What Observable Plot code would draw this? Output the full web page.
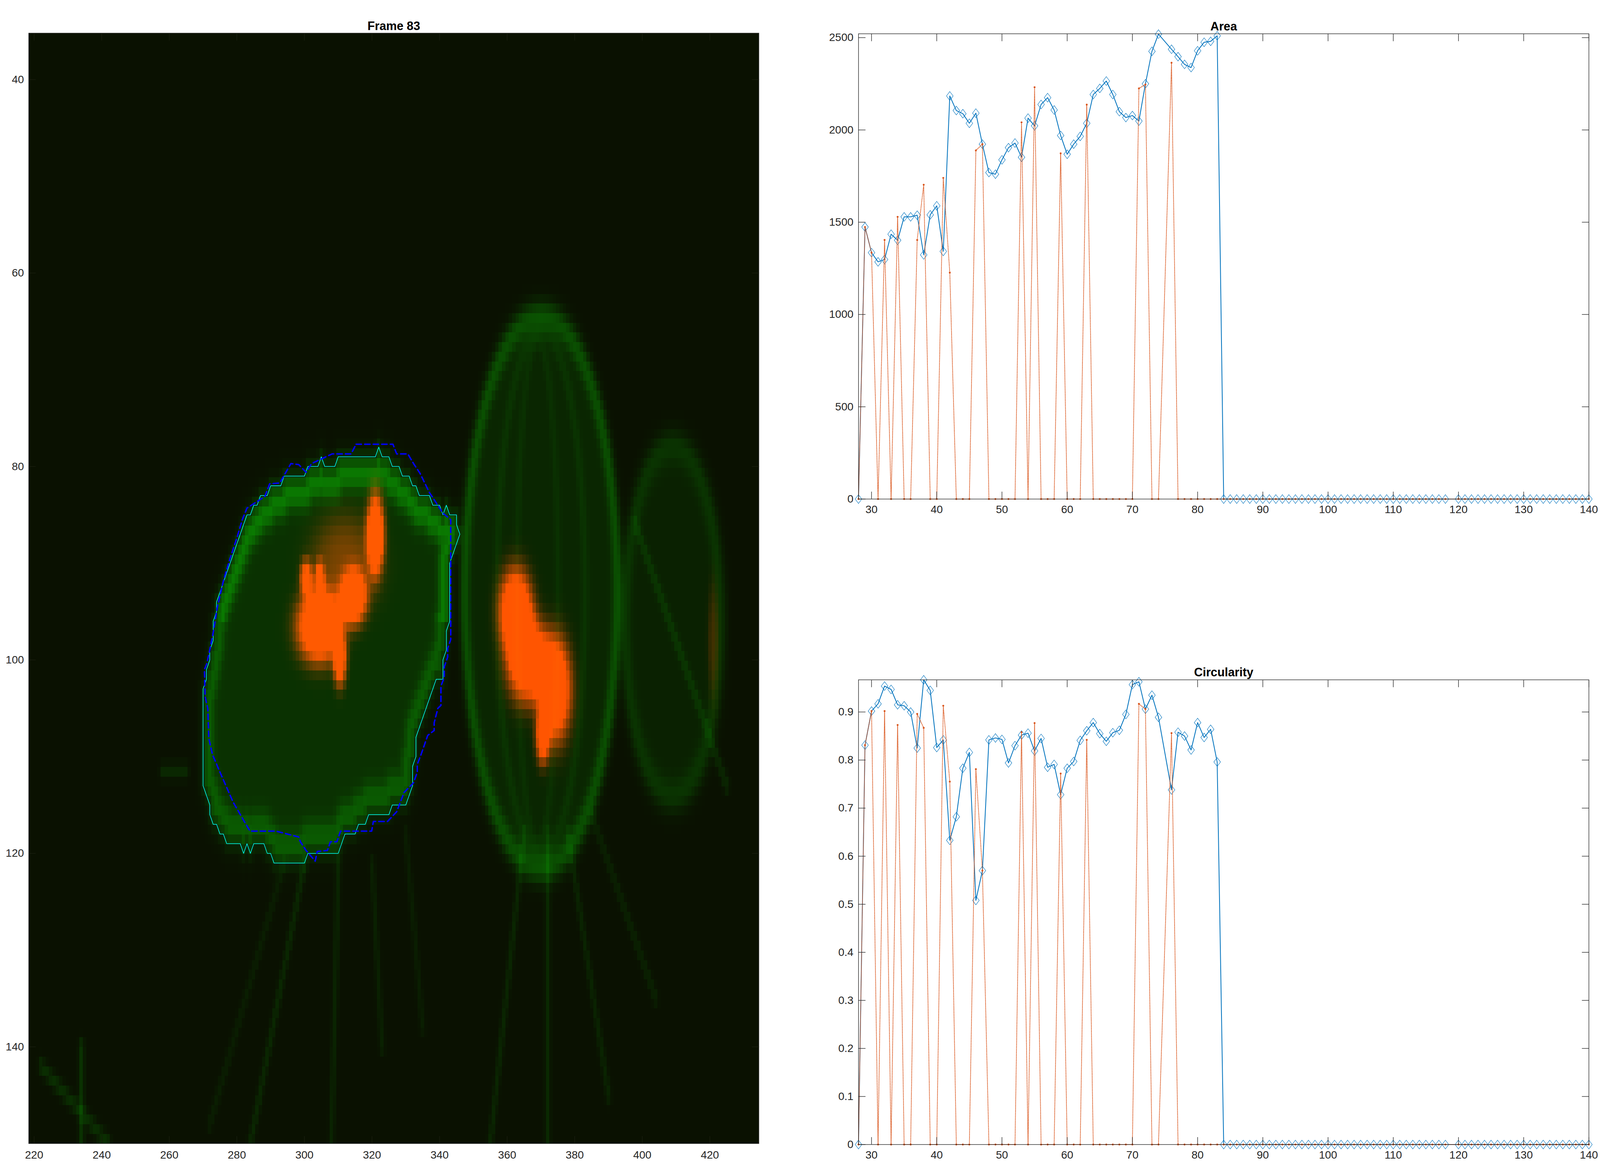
<!DOCTYPE html>
<html><head><meta charset="utf-8">
<script src="https://cdn.jsdelivr.net/npm/d3@7"></script>
<script src="https://cdn.jsdelivr.net/npm/@observablehq/plot@0.6"></script>
<style>
html,body{margin:0;padding:0;background:#fff;overflow:hidden;}
#fig{position:absolute;left:0;top:0;background:#fff;overflow:hidden;}
#fig > svg{position:absolute;}
</style></head><body><div id="fig"></div>
<script>
// ---------------- data ----------------
const frames = [28,29,30,31,32,33,34,35,36,37,38,39,40,41,42,43,44,45,46,47,48,49,50,51,52,53,54,55,56,57,58,59,60,61,62,63,64,65,66,67,68,69,70,71,72,73,74,
  76,77,78,79,80,81,82,83,84,85,86,87,88,89,90,91,92,93,94,95,96,97,98,99,100,101,102,103,104,105,106,107,108,109,110,111,112,113,114,115,116,117,118,
  120,121,122,123,124,125,126,127,128,129,130,131,132,133,134,135,136,137,138,139,140];

const areaTracked = [0,1474,1335,1285,1298,1435,1402,1529,1529,1538, 1323,1540,1589,1342,2184,2105,2088,2036,2091,1923,
  1769,1760,1838,1904,1929,1852,2064,2022,2138,2175, 2108,1970,1868,1923,1965,2036,2192,2225,2265,2192, 2099,2067,2078,2048,2250,2426,2519,
  2437,2397,2355,2338,2429,2475,2480,2510,
  0,0,0,0,0,0,0,0,0,0, 0,0,0,0,0,0,0,0,0,0, 0,0,0,0,0,0,0,0,0,0, 0,0,0,0,0,
  0,0,0,0,0,0,0,0,0,0, 0,0,0,0,0,0,0,0,0,0,0];
const areaRaw = [0,1474,1335,0,1404,0,1529,0,0,1404, 1703,0,0,1740,1227,0,0,0,1889,1923,
  0,0,0,0,0,2041,0,2231,0,0, 0,1873,0,0,0,2137,0,0,0,0, 0,0,0,2225,2246,0,0,
  2364,0,0,0,0,0,0,0,
  0,0,0,0,0,0,0,0,0,0, 0,0,0,0,0,0,0,0,0,0, 0,0,0,0,0,0,0,0,0,0, 0,0,0,0,0,
  0,0,0,0,0,0,0,0,0,0, 0,0,0,0,0,0,0,0,0,0,0];
const circTracked = [0,0.831,0.902,0.917,0.954,0.947,0.915,0.913,0.900,0.825, 0.967,0.945,0.826,0.842,0.633,0.682,0.783,0.816,0.508,0.570,
  0.842,0.846,0.843,0.794,0.830,0.852,0.856,0.819,0.845,0.785, 0.791,0.728,0.783,0.797,0.841,0.861,0.878,0.855,0.839,0.857, 0.862,0.895,0.957,0.963,0.906,0.935,0.889,
  0.738,0.858,0.850,0.821,0.878,0.847,0.864,0.796,
  0,0,0,0,0,0,0,0,0,0, 0,0,0,0,0,0,0,0,0,0, 0,0,0,0,0,0,0,0,0,0, 0,0,0,0,0,
  0,0,0,0,0,0,0,0,0,0, 0,0,0,0,0,0,0,0,0,0,0];
const circRaw = [0,0.831,0.902,0,0.902,0,0.873,0,0,0.896, 0.867,0,0,0.913,0.755,0,0,0,0.781,0.570,
  0,0,0,0,0,0.858,0,0.877,0,0, 0,0.772,0,0,0,0.842,0,0,0,0, 0,0,0,0.917,0.906,0,0,
  0.856,0,0,0,0,0,0,0,
  0,0,0,0,0,0,0,0,0,0, 0,0,0,0,0,0,0,0,0,0, 0,0,0,0,0,0,0,0,0,0, 0,0,0,0,0,
  0,0,0,0,0,0,0,0,0,0, 0,0,0,0,0,0,0,0,0,0,0];

const frameTicks = [30,40,50,60,70,80,90,100,110,120,130,140];
const areaTicks = [0,500,1000,1500,2000,2500];
const circTicks = [0,0.1,0.2,0.3,0.4,0.5,0.6,0.7,0.8,0.9];
const imgXTicks = [220,240,260,280,300,320,340,360,380,400,420];
const imgYTicks = [40,60,80,100,120,140];

// segmented outline (cyan) and fitted outline (blue dashed), image pixel coords
const cyanContour = [[322,78],[323,79],[325,79],[326,80],[328,80],[329,81],[331,81],[332,82],[333,82],[334,83],[337,83],[338,84],[340,84],[341,85],[342,84],[343,85],[345,85],[345,86],[346,87],[343,90],[343,96],[342,97],[342,99],[341,100],[341,102],[339,102],[333,108],[333,110],[332,111],[332,113],[331,114],[330,115],[326,115],[325,116],[319,116],[318,117],[316,117],[315,118],[312,118],[310,120],[301,120],[300,121],[291,121],[290,120],[289,120],[288,119],[285,119],[284,120],[283,119],[282,120],[281,119],[277,119],[276,118],[275,118],[274,117],[273,117],[272,116],[272,115],[270,113],[270,103],[271,102],[271,101],[272,100],[272,99],[273,98],[273,96],[274,95],[274,94],[283,85],[284,85],[285,84],[286,84],[287,83],[289,83],[290,82],[293,82],[294,81],[300,81],[301,80],[304,80],[305,79],[306,80],[309,80],[310,79],[321,79]];
const blueContour = [[315.3,77.7],[326.2,77.7],[327.3,78.7],[330.6,78.7],[332.3,79.7],[334.2,80.7],[337.0,82.7],[338.9,83.7],[340.9,84.8],[343.3,85.5],[343.3,97.9],[342.4,98.8],[342.4,99.7],[341.4,100.7],[341.4,101.8],[340.4,102.7],[340.4,104.7],[339.5,105.0],[338.4,106.5],[338.4,107.3],[336.5,107.8],[334.5,109.8],[333.4,110.8],[333.4,111.6],[332.3,112.7],[329.5,113.7],[328.4,114.7],[327.3,115.7],[324.6,116.7],[320.4,116.7],[319.9,117.7],[310.7,117.7],[309.6,118.8],[307.7,118.8],[306.8,119.7],[303.8,119.8],[303.2,120.8],[300.5,119.7],[298.8,118.8],[298.3,118.3],[291.6,117.7],[283.9,117.7],[282.2,116.7],[278.9,114.7],[275.0,111.6],[272.8,109.8],[271.7,108.1],[271.4,105.0],[270.6,103.8],[270.4,101.0],[271.1,100.4],[271.9,99.1],[273.1,97.0],[274.2,94.6],[276.1,91.7],[278.0,89.5],[280.0,87.4],[281.6,85.5],[283.0,84.3],[288.3,83.1],[289.7,81.8],[292.7,81.7],[296.0,79.7],[298.3,79.8],[300.5,80.6],[302.1,79.7],[308.2,78.7],[313.8,78.7]];

// picture content: [cx, cy, rx, ry, ringAmp, ringWidth, fillAmp]
const greenCells = [
  [370, 93, 22.5, 28.5, 0.26, 1.5, 0.13],
  [370, 93, 13, 27, 0.09, 1.1, 0],
  [369, 93, 6, 26, 0.07, 1.0, 0],
  [409, 96, 14, 18, 0.12, 1.8, 0.10]
];
// green filaments [x1, y1, x2, y2, amp]
const filaments = [
  [300,121,284,150,0.14],[310,121,308,150,0.12],[320,121,323,140,0.10],[330,118,335,138,0.08],
  [294,121,272,148,0.08],[365,118,355,150,0.13],[372,118,372,150,0.15],[378,118,390,145,0.12],
  [385,116,404,135,0.10],[222,142,242,150,0.18],[234,140,234,150,0.2],[258,111.5,265,111.5,0.14],
  [398,86,425,113,0.14]
];
// red chromatin blobs [cx, cy, sx, sy, amp]
const redBlobs = [
  [304.5,96.5,6.8,3.8,1.6],[314.5,93.5,4,2.9,1.4],[310.5,100,2,2.8,1.2],[321,87,2.6,4.2,1.6],
  [300.5,91.5,1.9,1.9,1.0],[304.5,91.5,1.5,1.8,0.9],[312,90,10,5,0.45],
  [362.5,95,5,4.5,1.5],[366,100,6.2,4.5,1.4],[374,103,5,5.5,1.5],[370.5,108,2.1,2.8,1.1],
  [421,98,1.5,6,0.22]
];

// ---------------- layout (design px of a 6000 x 3009 figure, mapped onto the window) ----------------
const FONT = '"Liberation Sans", Arial, Helvetica, sans-serif';
const AXIS = "#262626";
const BLUE = "#0072BD";
const ORANGE = "#D95319";
const fig = document.getElementById("fig");
const VW = window.innerWidth || 6000, VH = window.innerHeight || 3009;
const sx = VW / 6000, sy = VH / 3009;
const s = sx;              // sizes (fonts, strokes, markers) scale uniformly
fig.style.width = VW + "px";
fig.style.height = VH + "px";

const diamond = {
  draw(context, size) {
    const r = Math.sqrt(size / Math.PI);
    context.moveTo(0, -r * 1.32);
    context.lineTo(r, 0);
    context.lineTo(0, r * 1.32);
    context.lineTo(-r, 0);
    context.closePath();
  }
};

function place(svg, left, top) {
  svg.style.left = (left * sx) + "px";
  svg.style.top = (top * sy) + "px";
  fig.appendChild(svg);
}

function boxAxes(xt, yt, color) {
  const tk = {tickSize: -27 * s, fill: "none", stroke: color, strokeWidth: 2 * s, label: null};
  return [
    Plot.axisX({...tk, anchor: "bottom", ticks: xt}),
    Plot.axisX({...tk, anchor: "top", ticks: xt}),
    Plot.axisY({...tk, anchor: "left", ticks: yt}),
    Plot.axisY({...tk, anchor: "right", ticks: yt})
  ];
}

function timePanel({left, top, height, mt, mb, yMax, yTicks, yFmt, title, tracked, raw}) {
  const T = frames.map((f, i) => ({frame: f, value: tracked[i]}));
  const R = frames.map((f, i) => ({frame: f, value: raw[i]}));
  const svg = Plot.plot({
    width: 2900 * sx, height: height * sy,
    marginLeft: 119 * sx, marginRight: 42 * sx, marginTop: mt * sy, marginBottom: mb * sy,
    style: {fontFamily: FONT, fontSize: (41 * s) + "px", color: AXIS, background: "transparent", overflow: "visible"},
    x: {domain: [28, 140], axis: null},
    y: {domain: [0, yMax], axis: null},
    marks: [
      Plot.line(T, {x: "frame", y: "value", stroke: BLUE, strokeWidth: 3 * s}),
      Plot.dot(T, {x: "frame", y: "value", symbol: diamond, r: 12.5 * s, stroke: BLUE, strokeWidth: 1.6 * s, fill: "none"}),
      Plot.line(R, {x: "frame", y: "value", stroke: ORANGE, strokeWidth: 2.6 * s, strokeDasharray: `${2.5 * s},${3.5 * s}`}),
      Plot.dot(R, {x: "frame", y: "value", r: 3.6 * s, fill: ORANGE, stroke: "none"}),
      Plot.frame({stroke: AXIS, strokeWidth: 2 * s}),
      ...boxAxes(frameTicks, yTicks, AXIS),
      Plot.axisX({anchor: "bottom", ticks: frameTicks, tickSize: 0, tickPadding: 24 * s, label: null, fill: AXIS}),
      Plot.axisY({anchor: "left", ticks: yTicks, tickSize: 0, tickPadding: 19 * s, label: null, fill: AXIS, tickFormat: yFmt}),
      Plot.text([title], {text: d => d, frameAnchor: "top", dy: -13 * s, lineAnchor: "bottom", fontWeight: "bold", fontSize: 45 * s, fill: "#000"})
    ]
  });
  place(svg, left, top);
}

timePanel({left: 3100, top: 0, height: 1400, mt: 86, mb: 122.5, yMax: 2521, yTicks: areaTicks,
  yFmt: d => String(d), title: "Area", tracked: areaTracked, raw: areaRaw});
timePanel({left: 3100, top: 1600, height: 1409, mt: 140.4, mb: 78.5, yMax: 0.967, yTicks: circTicks,
  yFmt: d => d === 0 ? "0" : d.toFixed(1), title: "Circularity", tracked: circTracked, raw: circRaw});

// ---------------- micrograph panel ----------------
function distSeg(px, py, x1, y1, x2, y2) {
  const dx = x2 - x1, dy = y2 - y1, L = dx * dx + dy * dy;
  let t = L ? ((px - x1) * dx + (py - y1) * dy) / L : 0;
  t = Math.max(0, Math.min(1, t));
  const ex = x1 + t * dx - px, ey = y1 + t * dy - py;
  return Math.sqrt(ex * ex + ey * ey);
}
function inPoly(poly, x, y) {
  let c = false;
  for (let i = 0, j = poly.length - 1; i < poly.length; j = i++) {
    const [xi, yi] = poly[i], [xj, yj] = poly[j];
    if (((yi > y) !== (yj > y)) && (x < (xj - xi) * (y - yi) / (yj - yi) + xi)) c = !c;
  }
  return c;
}
function imageColor(x, y) {
  let G = 0.0, R = 0;
  // tracked cell: bright cortex band just inside the outline
  let dmin = Infinity;
  const n = cyanContour.length;
  for (let i = 0; i < n; i++) {
    const a = cyanContour[i], b = cyanContour[(i + 1) % n];
    dmin = Math.min(dmin, distSeg(x, y, a[0], a[1], b[0], b[1]));
  }
  const t = inPoly(cyanContour, x, y) ? dmin : -dmin;
  const ringAmp = y < 96 ? 0.46 : 0.28;
  G += 0.2 / (1 + Math.exp(-t * 1.6)) + ringAmp * Math.exp(-(((t - 1.8) / 1.6) ** 2));
  // other cells
  for (const [cx, cy, rx, ry, ra, rw, fa] of greenCells) {
    const dx = x - cx, dy = y - cy;
    const f = (dx / rx) ** 2 + (dy / ry) ** 2;
    const gr = 2 * Math.sqrt((dx / (rx * rx)) ** 2 + (dy / (ry * ry)) ** 2);
    const d = gr > 0 ? (f - 1) / gr : -100;
    G += ra * Math.exp(-((d / rw) ** 2)) + fa * (d < 0 ? 1 : Math.exp(-((d / 1.5) ** 2)));
  }
  for (const [x1, y1, x2, y2, a] of filaments) {
    const d = distSeg(x, y, x1, y1, x2, y2);
    G += a * Math.exp(-((d / 0.8) ** 2));
  }
  for (const [cx, cy, bx, by, a] of redBlobs) {
    const q = ((x - cx) / bx) ** 2 + ((y - cy) / by) ** 2;
    R += a * Math.exp(-Math.pow(q, 1.5));
  }
  G = Math.min(G, 1); R = Math.min(R, 1);
  const r = Math.round(10 + 245 * R);
  const g = Math.round(17 + 160 * G * (1 - 0.6 * R) + 60 * R);
  return `rgb(${r},${g},1)`;
}

const X0 = 218.4, X1 = 434.5, Y0 = 35.2, Y1 = 150.0;
const closed = p => [...p, p[0]];
const imgSvg = Plot.plot({
  width: 2900 * sx, height: 3009 * sy,
  marginLeft: 107 * sx, marginRight: 55 * sx, marginTop: 84.4 * sy, marginBottom: 81 * sy,
  style: {fontFamily: FONT, fontSize: (41 * s) + "px", color: AXIS, background: "transparent", overflow: "visible"},
  x: {domain: [X0, X1], axis: null},
  y: {domain: [Y0, Y1], reverse: true, axis: null},
  color: {type: "identity"},
  marks: [
    Plot.raster({x1: X0, x2: X1, y1: Y0, y2: Y1, width: 216, height: 115, fill: imageColor, imageRendering: "pixelated"}),
    Plot.line(closed(cyanContour), {x: d => d[0], y: d => d[1], stroke: "#00ffff", strokeWidth: 2.2 * s}),
    Plot.line(closed(blueContour), {x: d => d[0], y: d => d[1], stroke: "#0000ff", strokeWidth: 5.5 * s, strokeDasharray: `${20 * s},${12 * s}`}),
    Plot.frame({stroke: AXIS, strokeWidth: 2 * s}),
    ...boxAxes(imgXTicks, imgYTicks, "#1a1f10"),
    Plot.axisX({anchor: "bottom", ticks: imgXTicks, tickSize: 0, tickPadding: 27 * s, label: null, fill: AXIS}),
    Plot.axisY({anchor: "left", ticks: imgYTicks, tickSize: 0, tickPadding: 18 * s, label: null, fill: AXIS}),
    Plot.text(["Frame 83"], {text: d => d, frameAnchor: "top", dy: -11 * s, lineAnchor: "bottom", fontWeight: "bold", fontSize: 45 * s, fill: "#000"})
  ]
});
place(imgSvg, 0, 0);
</script></body></html>
